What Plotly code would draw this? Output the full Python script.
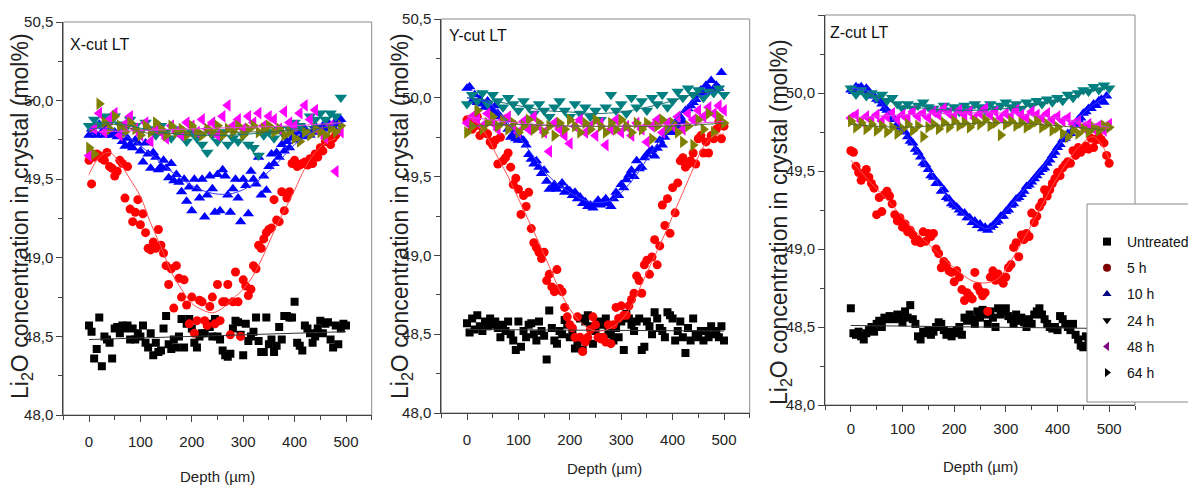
import plotly.graph_objects as go

W, H = 1196, 496
OFF = 8  # default page body margin
FW, FH = W - OFF, H - OFF

# ---------------- data ----------------
DEPTH_5 = list(range(0, 505, 5))
DEPTH_10 = list(range(0, 510, 10))

SERIES = ["Untreated", "5 h", "10 h", "24 h", "48 h", "64 h"]

# X-cut LT
x_untreated = [48.57,48.53,48.36,48.42,48.62,48.31,48.50,48.48,48.46,48.36,
               48.55,48.56,48.52,48.57,48.55,48.57,48.48,48.55,48.48,48.52,
               48.50,48.57,48.46,48.43,48.52,48.38,48.46,48.40,48.41,48.55,
               48.63,48.45,48.42,48.48,48.43,48.50,48.61,48.43,48.58,48.61,
               48.55,48.46,48.43,48.50,48.52,48.52,48.58,48.56,48.50,48.61,
               48.50,48.48,48.41,48.38,48.37,48.39,48.55,48.60,48.59,48.51,
               48.38,48.58,48.47,48.50,48.53,48.62,48.47,48.40,48.40,48.62,
               48.45,48.48,48.40,48.44,48.56,48.48,48.63,48.63,48.62,48.62,
               48.72,48.46,48.44,48.41,48.57,48.55,48.52,48.46,48.50,48.55,
               48.60,48.52,48.58,48.59,48.48,48.43,48.57,48.45,48.55,48.58,
               48.57]
x_5h = [49.62,49.47,49.64,49.66,49.65,49.63,49.62,49.67,49.58,49.57,
        49.52,49.55,49.62,49.60,49.38,49.58,49.31,49.23,49.29,49.37,
        49.21,49.28,49.16,49.06,49.05,49.10,49.06,49.18,49.08,49.03,
        48.95,48.83,48.93,48.68,48.95,48.87,48.75,48.86,48.70,48.58,
        48.75,48.52,48.60,48.73,48.72,48.60,48.57,48.69,48.75,48.58,
        48.83,48.60,48.72,48.72,48.83,48.51,48.72,48.91,48.72,48.50,
        48.86,48.82,48.76,48.80,48.95,48.93,49.08,49.06,49.12,49.16,
        49.18,49.19,49.37,49.24,49.23,49.42,49.30,49.38,49.42,49.60,
        49.62,49.58,49.59,49.60,49.61,49.59,49.63,49.60,49.66,49.64,
        49.70,49.68,49.74,49.75,49.72,49.76,49.78]
x_10h = [49.78,49.82,49.80,49.78,49.85,49.80,49.78,49.83,49.80,49.78,
         49.80,49.77,49.79,49.74,49.71,49.76,49.72,49.70,49.75,49.73,
         49.68,49.61,49.73,49.66,49.57,49.67,49.64,49.56,49.58,49.62,
         49.57,49.51,49.60,49.49,49.53,49.48,49.42,49.50,49.36,49.45,
         49.30,49.50,49.44,49.38,49.50,49.26,49.40,49.52,49.44,49.29,
         49.53,49.30,49.56,49.52,49.40,49.29,49.44,49.50,49.38,49.23,
         49.50,49.46,49.28,49.55,49.50,49.47,49.64,49.40,49.52,49.43,
         49.58,49.66,49.60,49.67,49.64,49.72,49.68,49.74,49.70,49.76,
         49.78,49.75,49.80,49.77,49.82,49.79,49.78,49.80,49.84,49.82,
         49.80,49.84,49.82,49.86,49.84,49.83,49.87,49.85,49.88]
x_24h = [49.84,49.88,49.85,49.90,49.86,49.90,49.85,49.82,49.88,49.84,
         49.80,49.86,49.82,49.78,49.84,49.80,49.76,49.82,49.78,49.74,
         49.80,49.76,49.72,49.67,49.78,49.74,49.80,49.72,49.76,49.74,
         49.78,49.72,49.70,49.65,49.78,49.80,49.76,49.82,49.78,49.82,
         49.86,49.84,49.80,49.90,49.88,49.92,49.88,49.92,49.90,50.02]
x_48h = [49.65,49.82,49.92,49.80,49.88,49.92,49.78,49.85,49.90,49.82,
         49.78,49.86,49.74,49.82,49.80,49.76,49.84,49.80,49.78,49.86,
         49.84,49.80,49.88,49.82,49.86,49.78,49.90,49.97,49.84,49.88,
         49.82,49.90,49.86,49.92,49.84,49.90,49.88,49.82,49.93,49.86,
         49.84,49.92,49.97,49.88,49.94,49.80,49.76,49.84,49.55,49.80]
x_64h = [49.70,49.66,49.98,49.86,49.82,49.90,49.84,49.80,49.86,49.82,
         49.78,49.84,49.80,49.86,49.82,49.78,49.84,49.80,49.82,49.78,
         49.84,49.80,49.78,49.82,49.80,49.84,49.78,49.82,49.80,49.84,
         49.78,49.82,49.84,49.80,49.82,49.84,49.80,49.82,49.78,49.80,
         49.76,49.74,49.80,49.78,49.82,49.80,49.78,49.82,49.80,49.84]

x_fit_depth = [[0, 500],
               [0,20,40,60,80,100,120,140,160,180,200,220,240,260,280,300,320,340,360,380,400,420,440,460,480],
               [0,40,80,120,160,200,240,280,320,360,400,440,480,495],
               [0,40,80,120,160,200,240,280,320,360,400,440,480],
               [0,100,200,300,400,490],
               [0,40,120,200,300,400,490]]
x_fit = [[48.48,48.53],
         [49.53,49.64,49.67,49.60,49.50,49.39,49.22,49.07,48.91,48.80,48.71,48.67,48.65,48.68,48.74,48.80,48.89,49.02,49.17,49.30,49.43,49.57,49.67,49.73,49.76],
         [49.82,49.82,49.76,49.66,49.55,49.46,49.41,49.41,49.47,49.58,49.72,49.81,49.85,49.86],
         [49.84,49.86,49.84,49.81,49.79,49.78,49.78,49.78,49.79,49.80,49.82,49.84,49.86],
         [49.80,49.81,49.82,49.83,49.84,49.86],
         [49.80,49.85,49.79,49.80,49.80,49.81,49.84]]

# Y-cut LT
y_untreated = [48.57,48.51,48.60,48.53,48.62,48.55,48.52,48.58,48.55,48.60,
               48.56,48.58,48.54,48.48,48.56,48.52,48.58,48.50,48.46,48.40,
               48.58,48.42,48.52,48.48,48.56,48.57,48.50,48.46,48.58,48.52,
               48.49,48.34,48.65,48.54,48.46,48.44,48.52,48.50,48.59,48.56,
               48.48,48.52,48.41,48.45,48.60,48.40,48.58,48.62,48.55,48.44,
               48.52,48.58,48.48,48.56,48.60,48.52,48.50,48.46,48.54,48.48,
               48.58,48.40,48.63,48.60,48.56,48.52,48.58,48.60,48.40,48.42,
               48.58,48.55,48.50,48.64,48.60,48.54,48.52,48.48,48.64,48.62,
               48.60,48.46,48.52,48.58,48.48,48.38,48.54,48.46,48.60,48.50,
               48.48,48.52,48.46,48.52,48.48,48.55,48.50,48.52,48.48,48.55,
               48.46]
y_5h = [49.86,49.84,49.80,49.82,49.88,49.76,49.81,49.78,49.77,49.72,
        49.70,49.73,49.58,49.75,49.60,49.62,49.65,49.56,49.45,49.49,
        49.42,49.26,49.38,49.31,49.40,49.17,49.08,49.05,49.02,48.98,
        49.02,48.84,48.88,48.80,48.77,48.91,48.79,48.77,48.67,48.61,
        48.56,48.54,48.48,48.61,48.48,48.39,48.45,48.48,48.53,48.61,
        48.56,48.48,48.47,48.48,48.45,48.56,48.44,48.56,48.67,48.60,
        48.68,48.62,48.62,48.68,48.72,48.76,48.87,48.84,48.76,48.94,
        48.97,48.88,48.99,49.10,48.94,49.06,49.32,49.19,49.36,49.14,
        49.43,49.27,49.46,49.60,49.62,49.56,49.58,49.60,49.65,49.58,
        49.74,49.76,49.65,49.72,49.65,49.76,49.74,49.80,49.85,49.74,
        49.82]
y_10h = [50.06,50.07,49.98,50.02,49.97,49.99,49.96,49.94,49.98,49.94,
         49.92,49.95,49.90,49.88,49.84,49.86,49.80,49.75,49.77,49.74,
         49.73,49.74,49.73,49.70,49.64,49.61,49.58,49.60,49.56,49.52,
         49.54,49.47,49.42,49.43,49.45,49.42,49.44,49.46,49.40,49.42,
         49.41,49.38,49.40,49.36,49.37,49.33,49.34,49.31,49.32,49.30,
         49.33,49.35,49.32,49.34,49.36,49.33,49.31,49.36,49.40,49.38,
         49.45,49.43,49.48,49.51,49.54,49.50,49.60,49.55,49.56,49.62,
         49.64,49.66,49.67,49.63,49.68,49.73,49.70,49.75,49.78,49.80,
         49.78,49.84,49.82,49.88,49.85,49.92,49.93,49.95,49.97,49.99,
         50.02,50.05,50.03,50.08,50.06,50.11,50.05,50.08,50.06,50.16]
y_24h = [49.96,50.02,49.98,50.03,49.96,50.02,49.98,49.94,50.00,49.96,
         49.92,49.98,49.94,49.90,49.96,49.92,49.88,49.94,49.98,49.92,
         49.88,49.96,49.90,49.94,49.88,49.92,49.86,49.94,50.02,49.92,
         49.96,49.90,50.00,49.94,49.98,49.92,50.00,49.96,50.02,49.94,
         49.98,50.04,50.00,50.06,50.02,50.05,50.00,50.04,50.03,50.06,
         50.02]
y_48h = [49.84,49.88,49.86,49.82,49.90,49.84,49.80,49.86,49.88,49.82,
         49.78,49.85,49.80,49.88,49.82,49.78,49.66,49.84,49.80,49.76,
         49.71,49.82,49.86,49.78,49.82,49.76,49.84,49.70,49.80,49.86,
         49.78,49.82,49.76,49.84,49.80,49.72,49.82,49.86,49.78,49.84,
         49.82,49.88,49.80,49.90,49.86,49.92,49.88,49.94,49.90,49.95,
         49.92]
y_64h = [49.78,49.82,49.92,49.80,49.84,49.88,49.82,49.86,49.80,49.84,
         49.78,49.82,49.86,49.80,49.84,49.78,49.82,49.76,49.84,49.80,
         49.86,49.82,49.78,49.84,49.80,49.86,49.82,49.78,49.84,49.80,
         49.86,49.82,49.78,49.84,49.80,49.84,49.74,49.82,49.86,49.80,
         49.84,49.78,49.72,49.82,49.70,49.86,49.80,49.90,49.78,49.88,
         49.84]

y_fit_depth = [[0, 500],
               [0,20,40,60,80,100,120,140,160,180,200,220,240,260,280,300,320,340,360,380,400,420,440,460,480,500],
               [0,40,80,120,160,200,240,280,320,360,400,440,480,500],
               [0,50,100,150,200,250,300,350,400,450,500],
               [0,100,200,300,400,500],
               [0,100,200,300,400,500]]
y_fit = [[48.53,48.52],
         [49.89,49.84,49.75,49.62,49.50,49.36,49.22,49.08,48.93,48.78,48.66,48.58,48.53,48.52,48.54,48.59,48.68,48.82,48.96,49.10,49.25,49.40,49.55,49.69,49.76,49.77],
         [50.00,49.97,49.84,49.67,49.50,49.40,49.34,49.35,49.47,49.66,49.84,49.98,50.04,50.05],
         [50.00,49.98,49.95,49.92,49.91,49.90,49.91,49.94,49.98,50.03,50.05],
         [49.88,49.84,49.82,49.82,49.83,49.85],
         [49.82,49.83,49.82,49.82,49.82,49.84]]

# Z-cut LT
z_untreated = [48.62,48.46,48.45,48.47,48.44,48.42,48.46,48.48,48.50,48.47,
               48.52,48.54,48.50,48.56,48.55,48.57,48.56,48.55,48.58,48.56,
               48.53,48.60,48.56,48.64,48.55,48.52,48.44,48.42,48.47,48.46,
               48.48,48.45,48.47,48.50,48.53,48.52,48.48,48.45,48.47,48.44,
               48.46,48.48,48.50,48.45,48.56,48.54,48.58,48.55,48.52,48.60,
               48.56,48.61,48.58,48.52,48.60,48.56,48.50,48.62,48.58,48.60,
               48.62,48.57,48.55,48.52,48.58,48.54,48.56,48.53,48.50,48.55,
               48.52,48.58,48.60,48.62,48.58,48.55,48.52,48.50,48.49,48.50,
               48.48,48.57,48.55,48.52,48.50,48.48,48.52,48.45,48.42,48.38,
               48.37,48.44,48.40,48.45,48.42,48.44,48.40,48.38,48.42,48.40]
z_5h = [49.63,49.62,49.53,49.49,49.44,49.47,49.51,49.46,49.42,49.39,
        49.22,49.33,49.24,49.35,49.37,49.34,49.29,49.22,49.18,49.20,
        49.14,49.16,49.11,49.12,49.09,49.05,49.06,49.04,49.11,49.05,
        49.10,49.08,49.10,49.00,48.97,48.88,48.92,48.90,48.86,48.85,
        48.79,48.86,48.82,48.74,48.67,48.72,48.70,48.68,48.85,48.76,
        48.73,48.70,48.72,48.60,48.82,48.86,48.80,48.84,48.80,48.78,
        48.82,48.88,48.90,49.01,49.04,48.95,49.09,49.06,49.10,49.08,
        49.23,49.17,49.21,49.27,49.30,49.38,49.34,49.38,49.42,49.45,
        49.49,49.47,49.52,49.54,49.56,49.55,49.63,49.60,49.65,49.62,
        49.64,49.66,49.64,49.71,49.65,49.70,49.72,49.70,49.68,49.60,
        49.55]
z_10h = [50.02,50.01,50.04,50.03,50.04,50.02,50.03,50.01,49.99,49.98,
         49.96,49.95,49.93,49.90,49.89,49.87,49.84,49.83,49.80,49.78,
         49.76,49.75,49.72,49.69,49.68,49.64,49.62,49.59,49.55,49.54,
         49.51,49.47,49.46,49.42,49.42,49.37,49.38,49.33,49.32,49.29,
         49.28,49.27,49.25,49.23,49.23,49.20,49.20,49.17,49.18,49.15,
         49.16,49.13,49.14,49.12,49.14,49.15,49.17,49.18,49.21,49.21,
         49.24,49.25,49.28,49.29,49.32,49.33,49.35,49.37,49.40,49.41,
         49.43,49.45,49.47,49.49,49.51,49.52,49.55,49.57,49.60,49.62,
         49.65,49.67,49.70,49.71,49.74,49.74,49.76,49.80,49.83,49.84,
         49.87,49.88,49.90,49.90,49.93,49.92,49.95,49.96,49.94,49.98]
z_24h = [50.03,49.99,50.02,49.98,50.00,49.97,49.99,49.95,49.97,49.93,
         49.90,49.93,49.90,49.92,49.94,49.91,49.90,49.88,49.92,49.89,
         49.91,49.88,49.92,49.90,49.93,49.91,49.89,49.93,49.90,49.92,
         49.94,49.91,49.93,49.90,49.94,49.92,49.95,49.93,49.96,49.94,
         49.97,49.95,49.99,49.97,50.00,50.02,50.01,50.04,50.02,50.05,
         50.03]
z_48h = [49.84,49.86,49.82,49.85,49.83,49.86,49.82,49.85,49.87,49.83,
         49.86,49.84,49.88,49.85,49.87,49.84,49.88,49.86,49.90,49.87,
         49.85,49.89,49.86,49.88,49.84,49.87,49.90,49.86,49.88,49.84,
         49.87,49.85,49.89,49.86,49.84,49.88,49.86,49.84,49.87,49.83,
         49.85,49.82,49.84,49.80,49.82,49.78,49.80,49.77,49.79,49.76,
         49.80]
z_64h = [49.82,49.78,49.81,49.77,49.80,49.76,49.79,49.75,49.78,49.74,
         49.77,49.80,49.76,49.79,49.72,49.78,49.80,49.77,49.81,49.78,
         49.82,49.79,49.81,49.78,49.82,49.80,49.83,49.79,49.81,49.73,
         49.80,49.82,49.79,49.81,49.78,49.80,49.82,49.78,49.80,49.76,
         49.78,49.74,49.72,49.76,49.74,49.77,49.75,49.78,49.76,49.79,
         49.78]

z_fit_depth = [[0, 500],
               [0,40,80,120,160,200,240,280,320,360,400,440,470,500],
               [0,40,80,120,160,200,240,265,300,340,380,420,460,500],
               [0,50,100,150,200,250,300,350,400,450,500],
               [0,100,200,300,400,450,500],
               [0,100,200,300,400,500]]
z_fit = [[48.51,48.49],
         [49.57,49.42,49.28,49.13,49.00,48.88,48.79,48.80,48.98,49.22,49.46,49.65,49.72,49.58],
         [50.03,50.00,49.84,49.67,49.46,49.28,49.17,49.13,49.24,49.40,49.56,49.75,49.90,49.99],
         [50.02,49.98,49.92,49.90,49.89,49.89,49.90,49.92,49.95,50.00,50.04],
         [49.84,49.86,49.87,49.87,49.84,49.81,49.78],
         [49.80,49.78,49.80,49.81,49.79,49.76]]

PANELS = [
    dict(label="X-cut LT", values=[x_untreated, x_5h, x_10h, x_24h, x_48h, x_64h],
         fit_depth=x_fit_depth, fit=x_fit),
    dict(label="Y-cut LT", values=[y_untreated, y_5h, y_10h, y_24h, y_48h, y_64h],
         fit_depth=y_fit_depth, fit=y_fit),
    dict(label="Z-cut LT", values=[z_untreated, z_5h, z_10h, z_24h, z_48h, z_64h],
         fit_depth=z_fit_depth, fit=z_fit),
]

# ---------------- style ----------------
COLORS = ["#000000", "#ff0000", "#0000ff", "#008080", "#ff00ff", "#808000"]
FIT_COLORS = ["#333333", "#ff5050", "#3a3aff", "#1a7070", "#e040e0", "#556b2f"]
LEGEND_COLORS = ["#000000", "#800000", "#000080", "#000000", "#800080", "#000000"]
SYMBOLS = ["square", "circle", "triangle-up", "triangle-down", "triangle-left", "triangle-right"]
SIZES = [8, 9, 10, 11, 11, 11]

FONT = "Liberation Sans"

def px(x):
    return (x - OFF) / FW

def py(y):
    return 1 - (y - OFF) / FH

# pixel geometry (page pixels) of each panel (left, right, top, bottom)
GEOM = [(63.3, 371.7, 22, 415), (441.3, 749.7, 19, 413), (825, 1135, 15, 405)]
YTITLE = [(21, 216), (401, 216), (780, 222)]
XTITLE = [(217, 476), (604, 468), (980, 466)]
LABELPOS = [(68, 45), (447, 36), (828, 32)]
TICKSTAND = [7, 7, 4]

fig = go.Figure()
annotations = []
shapes = []
for i, panel in enumerate(PANELS):
    sfx = "" if i == 0 else str(i + 1)
    xa, ya = "x" + sfx, "y" + sfx
    for k, vals in enumerate(panel["values"]):
        depth = DEPTH_5 if len(vals) > 60 else DEPTH_10
        fig.add_trace(go.Scatter(
            x=depth[:len(vals)], y=vals, mode="markers", xaxis=xa, yaxis=ya,
            marker=dict(symbol=SYMBOLS[k], size=SIZES[k], color=COLORS[k], line=dict(width=0)),
            showlegend=False, hoverinfo="skip"))
    for k, fv in enumerate(panel["fit"]):
        fig.add_trace(go.Scatter(
            x=panel["fit_depth"][k], y=fv, mode="lines", xaxis=xa, yaxis=ya,
            line=dict(color=FIT_COLORS[k], width=1, shape="spline", smoothing=1.0),
            showlegend=False, hoverinfo="skip"))
    l, r, t, b = GEOM[i]
    common = dict(showline=True, linecolor="#444444", linewidth=1, mirror=False,
                  ticks="outside", ticklen=6, tickcolor="#444444", showgrid=False,
                  zeroline=False, automargin=False,
                  tickfont=dict(family=FONT, size=15, color="#222222"))
    fig.update_layout(**{
        "xaxis" + sfx: dict(domain=[px(l), px(r)], range=[-50, 550], anchor=ya,
                            tick0=0, dtick=100, ticklabelstandoff=TICKSTAND[i],
                            minor=dict(ticks="outside", dtick=50, tick0=0, ticklen=4,
                                       tickcolor="#444444"),
                            **common),
        "yaxis" + sfx: dict(domain=[py(b), py(t)], range=[48.0, 50.5], anchor=xa,
                            tick0=48, dtick=0.5, tickformat=".1f", ticklabelstandoff=0,
                            minor=dict(ticks="outside", dtick=0.25, tick0=48, ticklen=4,
                                       tickcolor="#444444"),
                            **common),
    })
    # light frame on top / right
    shapes.append(dict(type="rect", xref=xa + " domain", yref=ya + " domain",
                       x0=0, x1=1, y0=0, y1=1, line=dict(color="#8a8a8a", width=1),
                       layer="below"))
    annotations.append(dict(x=px(YTITLE[i][0]), y=py(YTITLE[i][1]), xref="paper", yref="paper",
                            xanchor="center", yanchor="middle",
                            text="Li<sub>2</sub>O concentration in crystal (mol%)",
                            textangle=-90, showarrow=False,
                            font=dict(family=FONT, size=23, color="#222222")))
    annotations.append(dict(x=px(XTITLE[i][0]), y=py(XTITLE[i][1]), xref="paper", yref="paper",
                            xanchor="center", yanchor="middle",
                            text="Depth (\u00b5m)", showarrow=False,
                            font=dict(family=FONT, size=15, color="#222222")))
    annotations.append(dict(x=px(LABELPOS[i][0]), y=py(LABELPOS[i][1]), xref="paper", yref="paper",
                            text=panel["label"], showarrow=False, xanchor="left", yanchor="middle",
                            font=dict(family=FONT, size=16, color="#111111")))

# legend box (extends past the right edge as in the reference)
shapes.append(dict(type="rect", xref="paper", yref="paper",
                   x0=px(1087), x1=1.05, y0=py(402), y1=py(204),
                   fillcolor="white", line=dict(color="#888888", width=1), layer="above"))

# legend entries (dummy traces)
for k, name in enumerate(SERIES):
    fig.add_trace(go.Scatter(x=[None], y=[None], mode="markers", name=name,
                             legendgroup=name,
                             marker=dict(symbol=SYMBOLS[k], size=8, color=LEGEND_COLORS[k])))

fig.update_layout(
    width=FW, height=FH, autosize=False,
    margin=dict(l=0, r=0, t=0, b=0, pad=0, autoexpand=False),
    paper_bgcolor="white", plot_bgcolor="white",
    separators=",.",
    annotations=annotations,
    shapes=shapes,
    legend=dict(x=px(1087), y=py(226), xanchor="left", yanchor="top",
                bgcolor="rgba(0,0,0,0)", borderwidth=0, tracegroupgap=5,
                itemsizing="trace", font=dict(family=FONT, size=14, color="#111111")),
)

fig.write_html("out.html")
